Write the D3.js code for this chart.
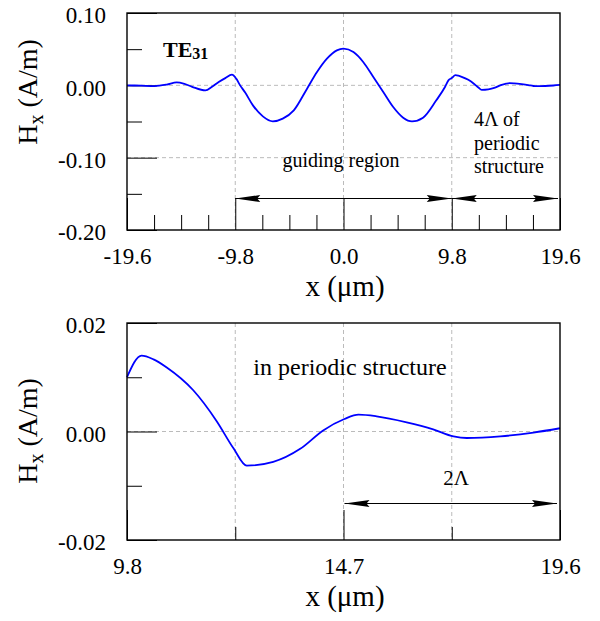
<!DOCTYPE html>
<html>
<head>
<meta charset="utf-8">
<script src="https://cdn.jsdelivr.net/npm/d3@7"></script>
<style>
  body { margin: 0; background: #fff; }
  svg { display: block; }
  text { font-family: "Liberation Serif", "Times New Roman", serif; fill: #000; }
</style>
</head>
<body>
<svg width="600" height="621"></svg>
<script>
// field profile Hx(x)
const xPos = [
  -19.6, -18.3, -17.1, -16.0, -15.1, -14.4, -13.7, -12.5, -11.9, -11.3, -10.7, -10.1,
  -9.7, -9.4, -8.9, -8.2, -7.3, -6.4, -5.5, -4.5, -3.3, -2.4, -1.5, -0.6, 0.0,
  0.9, 1.8, 2.7, 3.6, 4.5, 5.4, 6.2, 7.2, 8.4, 9.2, 9.5, 9.8, 10.13, 10.4, 10.7, 11.3,
  11.83, 12.21, 12.51, 13.11, 13.72, 14.24, 14.72, 15.04, 15.45, 16.13, 16.73,
  17.19, 17.49, 18.25, 19.0, 19.6
];
const hx = [
  0.0, -0.0005, -0.001, 0.001, 0.004, 0.002, -0.002, -0.007, -0.002, 0.0046, 0.010, 0.0148,
  0.009, 0.001, -0.010, -0.0277, -0.0429, -0.0498, -0.046, -0.0346, -0.0046, 0.0184, 0.0369, 0.0484, 0.0507,
  0.046, 0.032, 0.0115, -0.0092, -0.030, -0.0447, -0.0498, -0.0447, -0.0207, -0.002, 0.0069, 0.0100, 0.0140, 0.0133, 0.0118, 0.0076,
  0.0019, -0.0031, -0.0063, -0.0056, -0.0032, 0.0002, 0.0023, 0.0031, 0.0028, 0.0017, 0.0004,
  -0.0009, -0.0012, -0.0009, -0.0002, 0.0006
];

const topXMajor = [-19.6, -9.8, 0, 9.8, 19.6];
const topXMinor = [-17.15, -14.7, -12.25, -7.35, -4.9, -2.45, 2.45, 4.9, 7.35, 12.25, 14.7, 17.15];
const topYMajor = [0.1, 0, -0.1, -0.2];
const topYMinor = [0.05, -0.05, -0.15];
const topXGrid = [-9.8, 0, 9.8];
const topYGrid = [0, -0.1];

const botXMajor = [9.8, 14.7, 19.6];
const botXMinor = [12.25, 17.15];
const botYMajor = [0.02, 0, -0.02];
const botYMinor = [0.01, -0.01];
const botXGrid = [12.25, 14.7, 17.15];
const botYGrid = [0];

const points = xPos.map((x, i) => ({ x, y: hx[i] }));

const svg = d3.select("svg");
const left = 127, right = 560;
const font = "Liberation Serif";

function panel(opt) {
  const x = d3.scaleLinear().domain(opt.xDomain).range([left, right]);
  const y = d3.scaleLinear().domain(opt.yDomain).range([opt.bottom, opt.top]);
  const g = svg.append("g");

  // dashed grid
  g.selectAll("line.vgrid")
    .data(opt.xGrid)
    .join("line")
    .attr("x1", d => x(d)).attr("x2", d => x(d))
    .attr("y1", opt.top).attr("y2", opt.bottom)
    .attr("stroke", "#bbb").attr("stroke-dasharray", "4,3");
  g.selectAll("line.hgrid")
    .data(opt.yGrid)
    .join("line")
    .attr("x1", left).attr("x2", right)
    .attr("y1", d => y(d)).attr("y2", d => y(d))
    .attr("stroke", "#bbb").attr("stroke-dasharray", "4,3");

  // ticks
  const xAx = g.append("g").attr("transform", `translate(0,${opt.bottom})`);
  xAx.append("g").call(
    d3.axisBottom(x).tickValues(opt.xMajor).tickSize(-opt.xMajorLen).tickPadding(18)
      .tickFormat(d => d.toFixed(1)));
  xAx.append("g").call(
    d3.axisBottom(x).tickValues(opt.xMinor).tickSize(-opt.xMinorLen).tickFormat(""));

  const yAx = g.append("g").attr("transform", `translate(${left},0)`);
  yAx.append("g").call(
    d3.axisLeft(y).tickValues(opt.yMajor).tickSize(-30).tickPadding(21)
      .tickFormat(d => d.toFixed(2)));
  yAx.append("g").call(
    d3.axisLeft(y).tickValues(opt.yMinor).tickSize(-15).tickFormat(""));

  g.selectAll(".domain").remove();
  g.selectAll(".tick line").attr("stroke", "#000");
  g.selectAll(".tick text")
    .attr("font-family", font)
    .attr("font-size", 23)
    .attr("fill", "#000");
  yAx.selectAll(".tick text").attr("dy", "0.42em");

  // curve
  const line = d3.line()
    .x(d => x(d.x))
    .y(d => y(d.y))
    .curve(d3.curveMonotoneX);
  g.append("path")
    .datum(points.filter(d => d.x >= opt.xDomain[0] && d.x <= opt.xDomain[1]))
    .attr("d", line)
    .attr("fill", "none")
    .attr("stroke", "#0000ff")
    .attr("stroke-width", 1.8);

  // frame
  g.append("rect")
    .attr("x", left).attr("y", opt.top)
    .attr("width", right - left).attr("height", opt.bottom - opt.top)
    .attr("fill", "none").attr("stroke", "#000").attr("stroke-width", 1.4);

  // x title
  g.append("text")
    .attr("x", 345).attr("y", opt.xTitleY)
    .attr("text-anchor", "middle")
    .attr("font-size", 29)
    .text("x (\u03bcm)");

  // y title
  const yt = g.append("text")
    .attr("transform", `translate(37,${opt.yTitleY}) rotate(-90)`)
    .attr("text-anchor", "middle")
    .attr("font-size", 28);
  yt.append("tspan").text("H");
  yt.append("tspan").attr("font-size", 20).attr("dy", 6).text("x");
  yt.append("tspan").attr("dy", -6).text(" (A/m)");

  return { g, x, y };
}

function arrowHead(g, tipX, yy, dir) {
  const len = 25, half = 3.5;
  const back = tipX - dir * len;
  g.append("path")
    .attr("d", `M${tipX},${yy}L${back},${yy - half}L${back + dir * 3},${yy}L${back},${yy + half}Z`)
    .attr("fill", "#000");
}

function spanArrow(g, x0, x1, yy) {
  g.append("line")
    .attr("x1", x0).attr("x2", x1)
    .attr("y1", yy).attr("y2", yy)
    .attr("stroke", "#000").attr("stroke-width", 1.2);
  arrowHead(g, x0, yy, -1);
  arrowHead(g, x1, yy, 1);
}

// top panel
const topPanel = panel({
  xDomain: [-19.6, 19.6], yDomain: [-0.2, 0.1],
  top: 13, bottom: 230,
  xMajor: topXMajor, xMinor: topXMinor, yMajor: topYMajor, yMinor: topYMinor,
  xGrid: topXGrid, yGrid: topYGrid,
  xMajorLen: 32, xMinorLen: 15,
  xTitleY: 296, yTitleY: 92
});
spanArrow(topPanel.g, topPanel.x(-9.8), topPanel.x(9.8), 198.5);
spanArrow(topPanel.g, topPanel.x(9.8), topPanel.x(19.6) - 2, 198.5);

topPanel.g.append("text")
  .attr("x", 341).attr("y", 167)
  .attr("text-anchor", "middle")
  .attr("font-size", 20)
  .text("guiding region");

["4\u039b of", "periodic", "structure"].forEach((t, i) => {
  topPanel.g.append("text")
    .attr("x", 474).attr("y", 126 + i * 23.5)
    .attr("font-size", 20)
    .text(t);
});

const te = topPanel.g.append("text")
  .attr("x", 163).attr("y", 56.5)
  .attr("font-weight", "bold")
  .attr("font-size", 22);
te.append("tspan").text("TE");
te.append("tspan").attr("font-size", 16).attr("dy", 2).text("31");

// bottom panel
const botPanel = panel({
  xDomain: [9.8, 19.6], yDomain: [-0.02, 0.02],
  top: 323, bottom: 540,
  xMajor: botXMajor, xMinor: botXMinor, yMajor: botYMajor, yMinor: botYMinor,
  xGrid: botXGrid, yGrid: botYGrid,
  xMajorLen: 30, xMinorLen: 13,
  xTitleY: 606, yTitleY: 431
});
spanArrow(botPanel.g, botPanel.x(14.7) + 1, botPanel.x(19.6) - 3, 503.5);

botPanel.g.append("text")
  .attr("x", 350).attr("y", 375)
  .attr("text-anchor", "middle")
  .attr("font-size", 24)
  .text("in periodic structure");

botPanel.g.append("text")
  .attr("x", 456).attr("y", 485)
  .attr("text-anchor", "middle")
  .attr("font-size", 21)
  .text("2\u039b");
</script>
</body>
</html>
